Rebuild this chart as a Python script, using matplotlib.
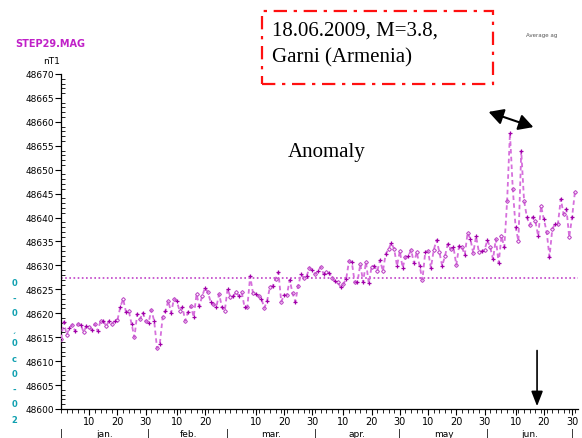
import numpy as np
import matplotlib
matplotlib.use("Agg")
import matplotlib.pyplot as plt
from matplotlib.patches import Rectangle, FancyArrowPatch

# ---- data (offset from 48600 nT, daily values from Jan 1) ----
base = 48600
vals_jan_mar = [14.6, 18.2, 15.5, 16.9, 17.6, 16.3, 17.8, 17.6, 16.1, 17.3, 17.1, 16.5, 17.8, 16.3,
                18.4, 18.4, 17.3, 18.4, 17.8, 18.4, 18.6, 21.3, 23.0, 20.3, 20.5, 17.8, 15.0, 19.9,
                18.8, 20.1, 18.4, 18.0, 20.7, 18.4, 12.7, 13.6, 19.2, 20.5, 22.6, 20.1, 23.0, 22.6,
                20.5, 21.3, 18.4, 20.3, 21.5, 19.2, 24.0, 21.5, 23.6, 25.3, 24.4, 22.4, 21.9, 21.3,
                24.0, 21.3, 20.5, 25.1, 23.4, 23.6]
vals_mar_may = [24.4, 23.6, 24.4, 21.3, 21.3, 27.8, 24.2, 24.0, 23.6, 23.0, 21.1, 22.6, 25.5, 25.7,
                27.2, 28.6, 22.4, 23.8, 23.8, 27.0, 24.2, 22.4, 25.7, 28.2, 27.4, 27.8, 29.5, 29.0,
                28.2, 28.8, 29.7, 28.2, 28.6, 28.4, 27.4, 26.7, 26.5, 25.5, 26.1, 27.2, 30.9, 30.7,
                26.5, 26.5, 30.3, 26.5, 30.7, 26.3, 29.7, 29.9, 28.8, 31.1, 28.8, 32.4, 33.4, 34.7,
                33.4, 29.9, 33.0, 29.5]
vals_may_jun = [31.8, 32.0, 33.2, 30.5, 32.8, 29.9, 27.0, 32.8, 33.0, 29.5, 33.2, 35.3, 32.8, 29.9,
                32.0, 34.5, 33.4, 33.8, 30.1, 34.1, 33.8, 32.2, 36.8, 35.5, 32.6, 36.1, 32.8, 33.0,
                33.2, 35.3, 33.8, 31.3, 35.5, 30.5, 36.1, 33.8, 43.5, 57.7, 46.0, 38.0, 35.1, 53.9,
                43.5, 40.1, 38.4, 40.1, 39.3, 36.1, 42.4, 39.7, 37.0, 31.8, 37.6, 38.7, 38.7, 43.9,
                40.7, 41.8, 35.9, 40.1, 45.3]
values = np.array(vals_jan_mar + vals_mar_may + vals_may_jun) + base
days = np.arange(len(values))

mean_level = 48627.4
event_day = 168.6

day_labels = [10, 20, 30, 41, 51, 69, 79, 89, 100, 110, 120, 130, 140, 150, 161, 171, 181]
day_label_text = ["10", "20", "30", "10", "20", "10", "20", "30", "10", "20", "30",
                  "10", "20", "30", "10", "20", "30"]
month_starts = [0, 31, 59, 90, 120, 151, 181]
month_names = ["jan.", "feb.", "mar.", "apr.", "may", "jun."]

# ---- figure ----
fig = plt.figure(figsize=(5.82, 4.39), dpi=100)
ax = fig.add_axes([61/582, 1-410/439, (578-61)/582, (410-75)/439])
ax.set_xlim(0, 183.1)
ax.set_ylim(48600, 48670)

ax.plot(days, values, linestyle=(0, (2.5, 1.8)), color="#d670dc", lw=1.3, zorder=3)
ax.plot(days[::2], values[::2], linestyle="none", marker="D", ms=2.0, mfc="none",
        mec="#c050c8", mew=0.8, zorder=4)
ax.plot(days[1::2], values[1::2], linestyle="none", marker="+", ms=2.8,
        mec="#a000a8", mew=0.9, zorder=4)
ax.axhline(mean_level, color="#c040c8", lw=1.2, linestyle=(0, (1, 1.5)), zorder=2)

for s in ["top", "right"]:
    ax.spines[s].set_visible(False)
for s in ["left", "bottom"]:
    ax.spines[s].set_color("black")
    ax.spines[s].set_linewidth(0.9)

ax.set_yticks(np.arange(48600, 48671, 5))
ax.set_yticks(np.arange(48600, 48671, 1), minor=True)
ax.tick_params(axis="y", which="major", direction="out", length=4, width=0.8,
               labelsize=6.5, pad=1)
ax.tick_params(axis="y", which="minor", direction="in", length=3, width=0.6)

ax.set_xticks(day_labels)
ax.set_xticklabels(day_label_text)
ax.set_xticks(np.arange(0, 183, 2), minor=True)
ax.tick_params(axis="x", which="major", direction="out", length=4, width=0.8,
               labelsize=7, pad=1)
ax.tick_params(axis="x", which="minor", direction="out", length=3, width=0.6)

# month row
for ms in month_starts:
    ax.text(ms, -0.072, "|", transform=ax.get_xaxis_transform(), ha="center",
            va="center", fontsize=7, clip_on=False)
for i, name in enumerate(month_names):
    mid = (month_starts[i] + month_starts[i+1]) / 2
    ax.text(mid, -0.074, name, transform=ax.get_xaxis_transform(), ha="center",
            va="center", fontsize=6.5, clip_on=False)

# event arrow
ax.annotate("", xy=(event_day, 48600), xytext=(event_day, 48612.8),
            arrowprops=dict(arrowstyle="-|>,head_length=0.9,head_width=0.35",
                            color="black", lw=1.2), annotation_clip=False)

# figure-level annotations (pixel-based placement)
def fx(px):
    return px / 582
def fy(py):
    return 1 - py / 439

fig.text(fx(15), fy(44), "STEP29.MAG", color="#c020c8", fontsize=7, fontweight="bold",
         ha="left", va="center")
fig.text(fx(52), fy(62), "nT1", color="black", fontsize=6.5, ha="center", va="center")

box = Rectangle((fx(262), fy(85)), fx(493) - fx(262), fy(12) - fy(85),
                transform=fig.transFigure, fill=False, edgecolor="#ff1010",
                lw=1.6, linestyle=(0, (6, 3, 1.5, 3)))
fig.patches.append(box)
fig.text(fx(272), fy(31), "18.06.2009, M=3.8,", fontsize=15, family="Liberation Serif",
         ha="left", va="center")
fig.text(fx(272), fy(58), "Garni (Armenia)", fontsize=15, family="Liberation Serif",
         ha="left", va="center")
fig.text(fx(288), fy(152), "Anomaly", fontsize=15, family="Liberation Serif",
         ha="left", va="center")
fig.text(fx(526), fy(35), "Average ag", fontsize=4, color="#555555", ha="left", va="center")

fig.patches.append(FancyArrowPatch(
    (fx(486), fy(112)), (fx(536), fy(129)), transform=fig.transFigure,
    arrowstyle="<|-|>,head_length=4,head_width=2.2", color="black", lw=1.5,
    mutation_scale=2.2))

# left cyan vertical glyphs
glyphs = ["0", "-", "0", "ˏ", "0", "c", "0", "-", "0", "2"]
gy = [283, 299, 314, 329, 344, 360, 375, 390, 405, 421]
for g, y in zip(glyphs, gy):
    fig.text(fx(14), fy(y), g, color="#10a0b0", fontsize=6, fontweight="bold",
             ha="center", va="center")

fig.savefig("out.png", dpi=100)
